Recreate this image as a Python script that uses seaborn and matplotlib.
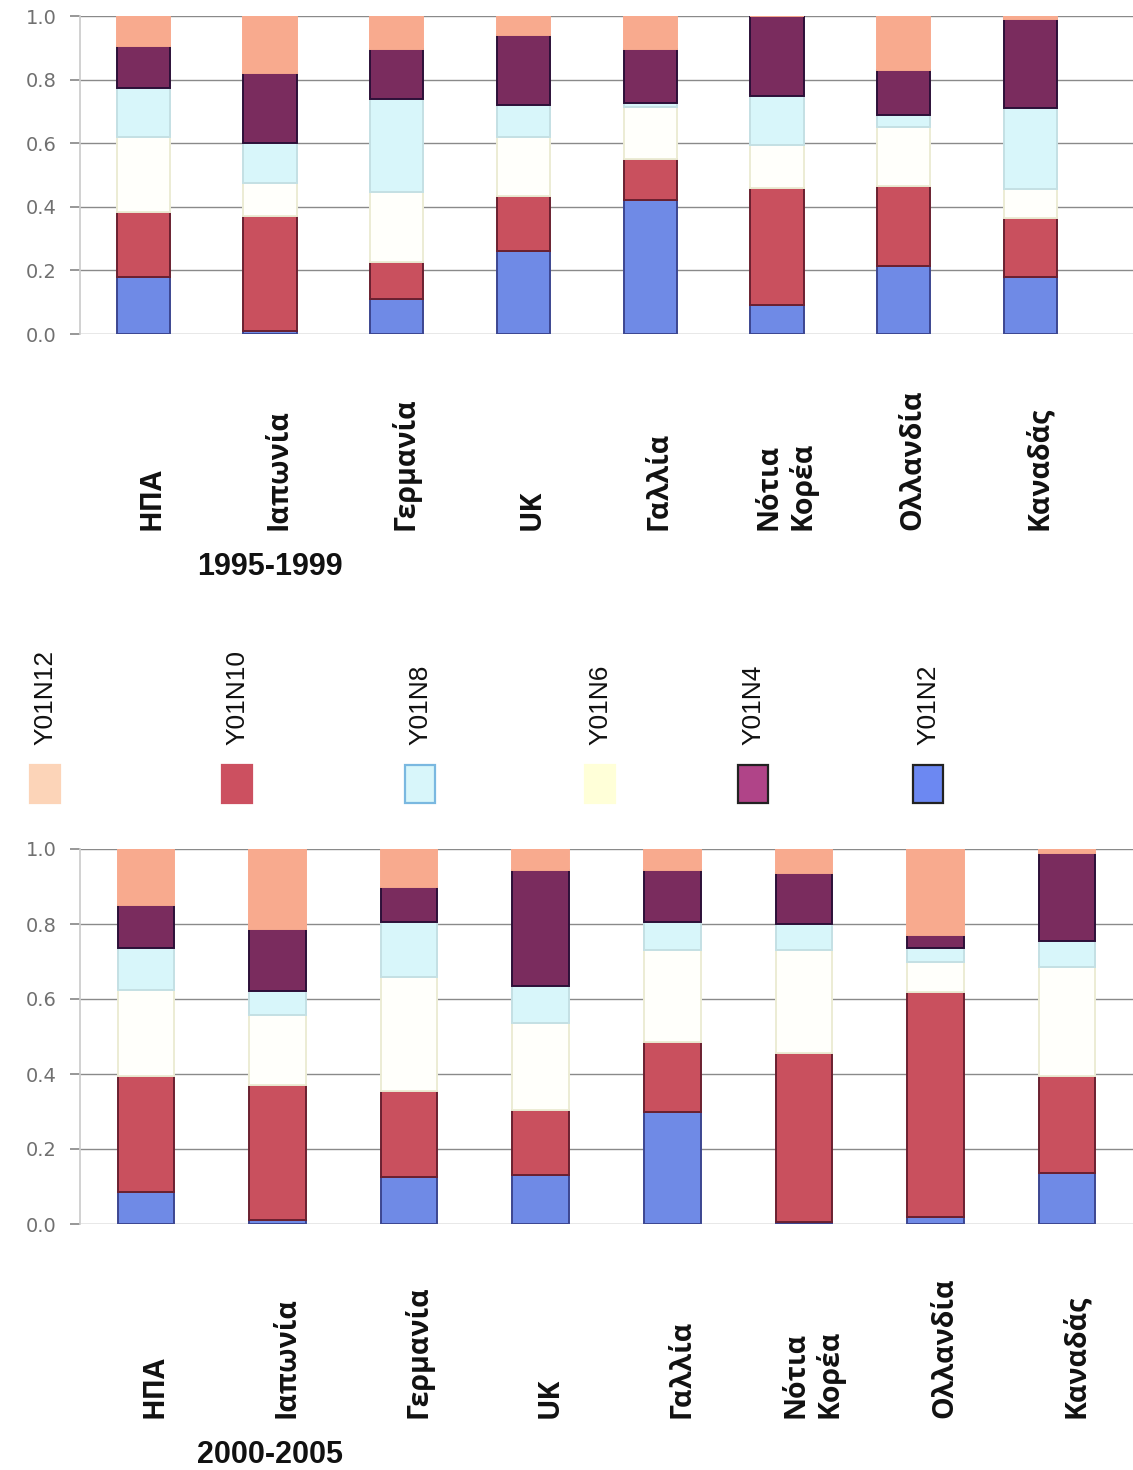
import matplotlib
matplotlib.use("Agg")
import matplotlib.pyplot as plt
import numpy as np
import pandas as pd
import seaborn as sns
from matplotlib.patches import Rectangle

# categories
countries = ["ΗΠΑ", "Ιαπωνία", "Γερμανία", "UK", "Γαλλία", "Νότια\nΚορέα", "Ολλανδία", "Καναδάς"]

# shares per patent class, 1995-1999 (stacked bottom -> top: N2, N10, N6, N8, N4, N12)
p1_n2 = [0.18, 0.01, 0.11, 0.26, 0.42, 0.09, 0.215, 0.18]
p1_n10 = [0.205, 0.36, 0.115, 0.175, 0.13, 0.37, 0.25, 0.185]
p1_n6 = [0.235, 0.105, 0.22, 0.185, 0.165, 0.135, 0.185, 0.09]
p1_n8 = [0.155, 0.125, 0.295, 0.10, 0.01, 0.155, 0.04, 0.255]
p1_n4 = [0.13, 0.22, 0.155, 0.22, 0.17, 0.25, 0.14, 0.28]
p1_n12 = [0.095, 0.18, 0.105, 0.06, 0.105, 0.0, 0.17, 0.01]

# 2000-2005
p2_n2 = [0.085, 0.012, 0.125, 0.13, 0.30, 0.005, 0.02, 0.135]
p2_n10 = [0.31, 0.36, 0.23, 0.175, 0.185, 0.45, 0.60, 0.26]
p2_n6 = [0.23, 0.185, 0.305, 0.23, 0.245, 0.275, 0.08, 0.29]
p2_n8 = [0.11, 0.065, 0.145, 0.10, 0.075, 0.07, 0.035, 0.07]
p2_n4 = [0.115, 0.165, 0.095, 0.31, 0.14, 0.135, 0.035, 0.235]
p2_n12 = [0.15, 0.213, 0.10, 0.055, 0.055, 0.065, 0.23, 0.01]

stack_order = ["Y01N2", "Y01N10", "Y01N6", "Y01N8", "Y01N4", "Y01N12"]
legend_order = ["Y01N12", "Y01N10", "Y01N8", "Y01N6", "Y01N4", "Y01N2"]

fills = {
    "Y01N2": "#6f8ae6",
    "Y01N10": "#c9505e",
    "Y01N6": "#fffffb",
    "Y01N8": "#d8f6fa",
    "Y01N4": "#7a2c5e",
    "Y01N12": "#f8aa8e",
}
edges = {
    "Y01N2": "#3c4690",
    "Y01N10": "#6a2030",
    "Y01N6": "#ececd4",
    "Y01N8": "#c4e0e4",
    "Y01N4": "#2c1038",
    "Y01N12": "#f8aa8e",
}
legend_fill = dict(fills, **{"Y01N12": "#fcd4b8", "Y01N4": "#b04488", "Y01N6": "#ffffd8", "Y01N2": "#6c88f2", "Y01N10": "#cc5060"})
legend_edge = {"Y01N12": "#fcd4b8", "Y01N10": "#cc5060", "Y01N8": "#7ab8e0",
               "Y01N6": "#ffffd8", "Y01N4": "#222222", "Y01N2": "#222222"}

period1 = pd.DataFrame({"Y01N2": p1_n2, "Y01N10": p1_n10, "Y01N6": p1_n6,
                        "Y01N8": p1_n8, "Y01N4": p1_n4, "Y01N12": p1_n12}, index=countries)
period2 = pd.DataFrame({"Y01N2": p2_n2, "Y01N10": p2_n10, "Y01N6": p2_n6,
                        "Y01N8": p2_n8, "Y01N4": p2_n4, "Y01N12": p2_n12}, index=countries)

sns.set_theme(style="white")
plt.rcParams["font.family"] = ["Liberation Sans", "DejaVu Sans"]

fig = plt.figure(figsize=(11.33, 14.7), dpi=100)
W, H = 1133, 1470


def px_axes(left, top, right, bottom):
    return fig.add_axes([left / W, 1 - bottom / H, (right - left) / W, (bottom - top) / H])


def stacked(ax, df, width, xmax, label_y):
    cum = np.zeros(len(df))
    for s in stack_order:
        sns.barplot(x=list(df.index), y=df[s].values, bottom=cum, color=fills[s],
                    edgecolor=edges[s], linewidth=1.4, width=width, errorbar=None,
                    saturation=1, ax=ax, zorder=3)
        cum = cum + df[s].values
    ax.set_xlim(-0.5, xmax)
    ax.set_ylim(0, 1)
    ax.set_yticks(np.arange(0, 1.01, 0.2))
    ax.set_yticklabels([f"{v:.1f}" for v in np.arange(0, 1.01, 0.2)],
                       fontsize=14, color="#707070", family="DejaVu Sans")
    ax.yaxis.grid(True, color="#8a8a8a", linewidth=1.0)
    ax.set_axisbelow(True)
    ax.tick_params(axis="y", length=7, color="#8a8a8a", left=True, pad=10)
    ax.tick_params(axis="x", length=0)
    ax.set_xticklabels([])
    ax.set_xlabel("")
    ax.set_ylabel("")
    for side in ["top", "right", "bottom"]:
        ax.spines[side].set_visible(False)
    ax.spines["left"].set_color("#cccccc")
    for i, name in enumerate(df.index):
        ax.text(i + 0.07, label_y, name, transform=ax.get_xaxis_transform(),
                rotation=90, ha="center", va="bottom", multialignment="left",
                fontsize=20.5, fontweight="bold", color="#111111",
                family=["Open Sans", "DejaVu Sans"])


ax1 = px_axes(80, 16, 1133, 334)
stacked(ax1, period1, 0.42, 7.81, -0.616)

ax2 = px_axes(80, 849, 1133, 1224)
stacked(ax2, period2, 0.43, 7.5, -0.517)

period_font = ["Liberation Sans Narrow", "Liberation Sans"]
fig.text(270 / W, 1 - 567 / H, "1995-1999", ha="center", va="center",
         fontsize=22, fontweight="bold", family=period_font, color="#111111")
fig.text(270 / W, 1 - 1455 / H, "2000-2005", ha="center", va="center",
         fontsize=22, fontweight="bold", family=period_font, color="#111111")

# rotated legend drawn by hand
leg_x = [45, 237, 420, 600, 753, 928]
for name, xc in zip(legend_order, leg_x):
    fig.text(xc / W, 1 - 745 / H, name, rotation=90, ha="center", va="bottom",
             fontsize=19, color="#111111")
    fig.patches.append(Rectangle(((xc - 15) / W, 1 - 803 / H), 30 / W, 38 / H,
                                 transform=fig.transFigure, facecolor=legend_fill[name],
                                 edgecolor=legend_edge[name], linewidth=1.6))

fig.savefig("out.png", dpi=100)
